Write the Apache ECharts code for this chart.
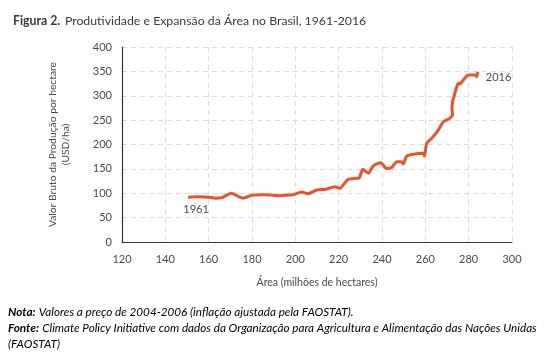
<!DOCTYPE html>
<html><head><meta charset="utf-8">
<script src="https://cdn.jsdelivr.net/npm/echarts@6/dist/echarts.min.js"></script>
<style>html,body{margin:0;padding:0;background:#fff}#c{width:558px;height:364px}</style>
</head><body><div id="c"></div>
<script>
// Area (million ha) vs gross production value per hectare (USD/ha), 1961-2016
const areaValues = [150.5,155,160,163,166,170.6,173,175.8,180,185,190,193,196,199,202.9,205.8,209.9,214,218.3,220.6,222.1,224.4,228.3,229.5,231.1,233.7,236,239.4,241.4,242.2,244.5,246.8,249.1,249.8,251.4,254.5,259.1,259.6,260.6,262.9,266,268.3,271.2,272.6,272.3,272.6,273.2,274.5,275.2,276,277.5,279.8,282.9,283.7,284.2];
const valuePerHa = [92,93,92,90,91,100,95,90,96,97,96,95,96,97,102.6,99,106.7,108,113.5,110,117,128.6,130.6,131,149,141,156,162.7,153,151,153,164.7,164.7,160,176,180,182,176,202,212.6,229.7,246.8,253.7,262,274,288,298,318.6,325.5,324,332,342.6,342.6,339,349];
const xTicks = [120,300,20];
const yTicks = [0,400,50];
const startLabel = '1961', endLabel = '2016';

const data = areaValues.map((a,i)=>[a,valuePerHa[i]]);
const chart = echarts.init(document.getElementById('c'));
const txt = '#4a4a4a';
chart.setOption({
  backgroundColor:'#fff',
  animation:false,
  textStyle:{fontFamily:'Lato'},
  title:{
    left:8, top:7,
    text:'{b|Figura 2.} {n|Produtividade e Expansão da Área no Brasil, 1961-2016}',
    textStyle:{fontWeight:'normal',rich:{
      b:{fontFamily:'Lato',fontWeight:'bold',fontSize:12.3,color:'#3a3a3a'},
      n:{fontFamily:'Lato',fontWeight:'normal',fontSize:12.3,color:'#3a3a3a'}
    }}
  },
  grid:{left:122,right:46,top:47,bottom:122},
  xAxis:{
    type:'value',min:xTicks[0],max:xTicks[1],interval:xTicks[2],
    name:'Área (milhões de hectares)',nameLocation:'middle',nameGap:35,
    nameTextStyle:{color:txt,fontSize:10.5,fontFamily:'Lato'},
    axisLine:{show:true,lineStyle:{color:'#333',width:1.2}},
    axisTick:{show:false},
    axisLabel:{color:txt,fontSize:11,margin:12,fontFamily:'Lato'},
    splitLine:{show:true,lineStyle:{color:'#dcdcdc',type:[5,4],width:1}}
  },
  yAxis:{
    type:'value',min:yTicks[0],max:yTicks[1],interval:yTicks[2],
    name:'Valor Bruto da Produção por hectare\n(USD/ha)',nameLocation:'middle',nameGap:50,
    nameTextStyle:{color:txt,fontSize:10.3,lineHeight:13,fontFamily:'Lato'},
    axisLine:{show:true,lineStyle:{color:'#333',width:1.2}},
    axisTick:{show:false},
    axisLabel:{color:txt,fontSize:11,margin:10,fontFamily:'Lato'},
    splitLine:{show:true,lineStyle:{color:'#dcdcdc',type:[5,4],width:1}}
  },
  series:[{
    type:'line',data:data,showSymbol:false,smooth:0.2,
    lineStyle:{color:'#e9532b',width:3},
    markPoint:{
      symbol:'circle',symbolSize:0,
      label:{show:true,color:txt,fontSize:11,fontFamily:'Lato'},
      data:[
        {coord:data[0],value:startLabel,label:{formatter:startLabel,position:'bottom',offset:[8,2]}},
        {coord:data[data.length-1],value:endLabel,label:{formatter:endLabel,position:'right',offset:[3,6]}}
      ]
    }
  }],
  graphic:[{
    type:'text',left:8,top:304,
    style:{
      text:'{b|Nota:} {i|Valores a preço de 2004-2006 (inflação ajustada pela FAOSTAT).}\n{b|Fonte:} {i|Climate Policy Initiative com dados da Organização para Agricultura e Alimentação das Nações Unidas}\n{i|(FAOSTAT)}',
      lineHeight:16,
      rich:{
        b:{fontFamily:'Lato',fontStyle:'italic',fontWeight:'bold',fontSize:11.7,color:'#2a2a2a',lineHeight:16},
        i:{fontFamily:'Lato',fontStyle:'italic',fontSize:11.7,color:'#2a2a2a',lineHeight:16}
      }
    }
  }]
});
</script></body></html>
